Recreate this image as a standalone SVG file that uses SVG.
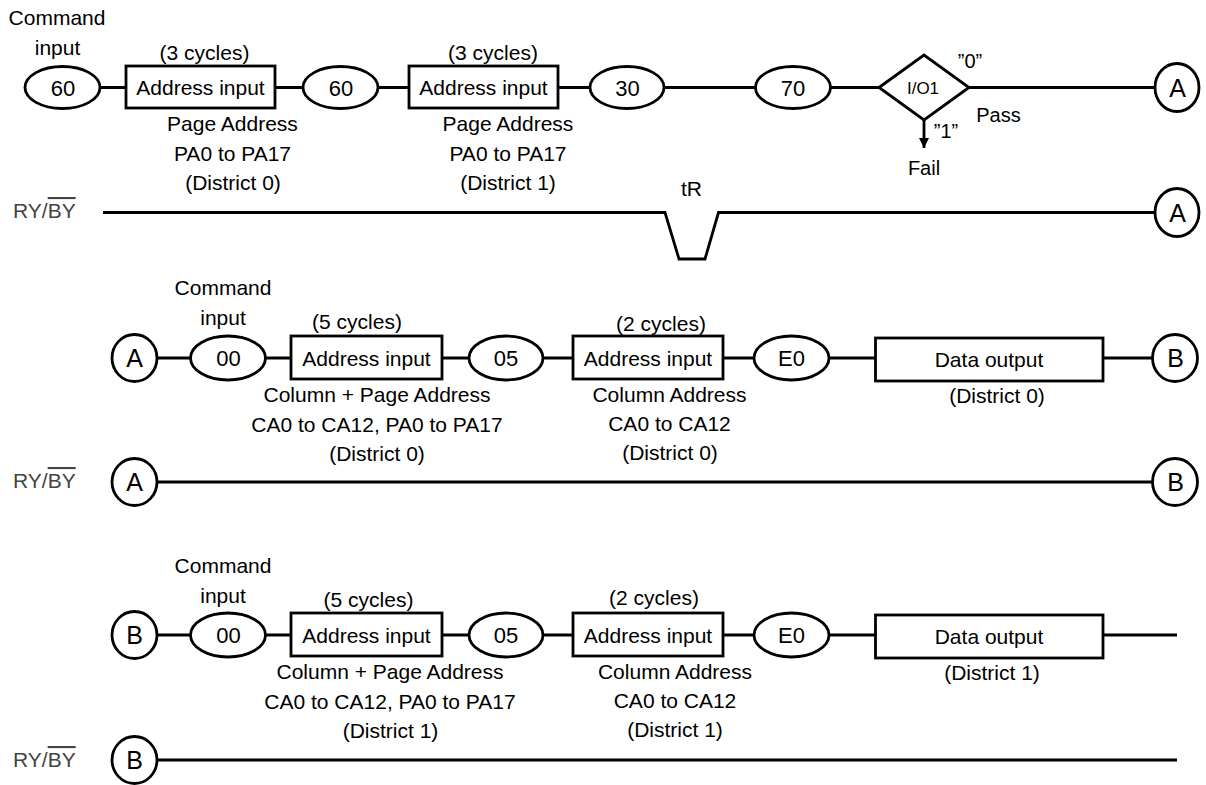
<svg xmlns="http://www.w3.org/2000/svg" width="1206" height="785" viewBox="0 0 1206 785">
<defs>
<style>
text{font-family:"Liberation Sans",Arial,sans-serif;font-size:21px;fill:#000;text-anchor:middle}
.sh{fill:#fff;stroke:#000;stroke-width:2.8}
.ln{fill:none;stroke:#000;stroke-width:2.8}
.lt{font-size:25px}
.nm{font-size:22px}
.io{font-size:17px}
.q{font-size:20px}
.ry{fill:#444;text-anchor:start}
</style>
<marker id="ah" viewBox="0 0 10 10" refX="10" refY="5" markerWidth="11" markerHeight="10" markerUnits="userSpaceOnUse" orient="auto">
<path d="M0,0 L10,5 L0,10 Z" fill="#000"/>
</marker>
</defs>
<rect width="1206" height="785" fill="#fff"/>

<g id="connectors">
<path class="ln" d="M100,87.5 H126 M275,87.5 H303 M378,87.5 H409 M558,87.5 H590 M664,87.5 H755.5 M830.5,87.5 H879 M969,87.5 H1155"/>
<path class="ln" d="M924,120 V148" marker-end="url(#ah)"/>
<path class="ln" d="M103,212.5 H665 L679,259 H705 L718.5,212.5 H1155"/>
<path class="ln" d="M157,358 H190.5 M265.5,358 H291 M442,358 H469 M543,358 H573 M723,358 H754 M829,358 H875.5 M1103,358 H1153"/>
<path class="ln" d="M157,482 H1153"/>
<path class="ln" d="M157,635 H190.5 M265.5,635 H291 M442,635 H469 M543,635 H573 M723,635 H754 M829,635 H875.5 M1103,635 H1177"/>
<path class="ln" d="M157,760 H1177"/>
</g>

<!-- Row 1 -->
<g id="r1-labels">
<text x="57" y="25">Command</text>
<text x="57.5" y="55">input</text>
<text x="204.5" y="60">(3 cycles)</text>
<text x="493" y="60">(3 cycles)</text>
<text x="232.5" y="131">Page Address</text>
<text x="232.5" y="160.5">PA0 to PA17</text>
<text x="233" y="190">(District 0)</text>
<text x="508" y="131">Page Address</text>
<text x="508" y="160.5">PA0 to PA17</text>
<text x="508" y="190">(District 1)</text>
<text class="q" x="970" y="68">”0”</text>
<text class="q" x="998.5" y="122">Pass</text>
<text class="q" x="946" y="138">”1”</text>
<text class="q" x="924" y="175">Fail</text>
<text x="691.5" y="196">tR</text>
<text class="ry" x="13" y="218">RY/<tspan style="text-decoration:overline">BY</tspan></text>
</g>
<g id="r1-cmd60a"><ellipse class="sh" cx="62.5" cy="87.5" rx="37.5" ry="21"/><text class="nm" x="63" y="95.5">60</text></g>
<g id="r1-addr1"><rect class="sh" x="126" y="66" width="149" height="42"/><text x="200.5" y="94.5">Address input</text></g>
<g id="r1-cmd60b"><ellipse class="sh" cx="340.5" cy="87.5" rx="37.5" ry="21"/><text class="nm" x="341" y="95.5">60</text></g>
<g id="r1-addr2"><rect class="sh" x="409" y="66" width="149" height="42"/><text x="483.5" y="94.5">Address input</text></g>
<g id="r1-cmd30"><ellipse class="sh" cx="627" cy="87.5" rx="37" ry="21"/><text class="nm" x="627.5" y="95.5">30</text></g>
<g id="r1-cmd70"><ellipse class="sh" cx="793" cy="87.5" rx="37.5" ry="21"/><text class="nm" x="793" y="95.5">70</text></g>
<g id="r1-io1"><polygon class="sh" points="879,87.5 924,55 969,87.5 924,120"/><text class="io" x="923" y="94">I/O1</text></g>
<g id="r1-A-out"><ellipse class="sh" cx="1177" cy="87.5" rx="22" ry="24"/><text class="lt" x="1177.5" y="96.5">A</text></g>
<g id="r1-A-ry"><ellipse class="sh" cx="1177" cy="212.5" rx="22" ry="24"/><text class="lt" x="1177.5" y="221.5">A</text></g>

<!-- Row 2 -->
<g id="r2-labels">
<text x="223" y="295">Command</text>
<text x="223" y="325">input</text>
<text x="357" y="329">(5 cycles)</text>
<text x="377" y="402">Column + Page Address</text>
<text x="377" y="431.5">CA0 to CA12, PA0 to PA17</text>
<text x="377" y="461">(District 0)</text>
<text x="661" y="331">(2 cycles)</text>
<text x="669.5" y="402">Column Address</text>
<text x="669.5" y="431">CA0 to CA12</text>
<text x="670" y="460">(District 0)</text>
<text x="997" y="403">(District 0)</text>
<text class="ry" x="13" y="488">RY/<tspan style="text-decoration:overline">BY</tspan></text>
</g>
<g id="r2-A-in"><ellipse class="sh" cx="134.5" cy="358" rx="22.5" ry="23.5"/><text class="lt" x="134.5" y="367">A</text></g>
<g id="r2-cmd00"><ellipse class="sh" cx="228" cy="358" rx="37.5" ry="22"/><text class="nm" x="228.5" y="366">00</text></g>
<g id="r2-addr1"><rect class="sh" x="291" y="336" width="151" height="43"/><text x="366.5" y="365.5">Address input</text></g>
<g id="r2-cmd05"><ellipse class="sh" cx="506" cy="358" rx="37" ry="22"/><text class="nm" x="506" y="366">05</text></g>
<g id="r2-addr2"><rect class="sh" x="573" y="336" width="150" height="43"/><text x="648" y="365.5">Address input</text></g>
<g id="r2-cmdE0"><ellipse class="sh" cx="791.5" cy="358" rx="37.5" ry="22"/><text class="nm" x="791.5" y="366">E0</text></g>
<g id="r2-data"><rect class="sh" x="875.5" y="338" width="227.5" height="43"/><text x="989" y="367">Data output</text></g>
<g id="r2-B-out"><ellipse class="sh" cx="1175" cy="358" rx="22.5" ry="23.5"/><text class="lt" x="1175.5" y="367">B</text></g>
<g id="r2-A-ry"><ellipse class="sh" cx="134.5" cy="482" rx="22.5" ry="23.5"/><text class="lt" x="134.5" y="491">A</text></g>
<g id="r2-B-ry"><ellipse class="sh" cx="1175" cy="482" rx="22.5" ry="23.5"/><text class="lt" x="1175.5" y="491">B</text></g>

<!-- Row 3 -->
<g id="r3-labels">
<text x="223" y="573">Command</text>
<text x="223" y="603">input</text>
<text x="368.5" y="607">(5 cycles)</text>
<text x="390" y="679">Column + Page Address</text>
<text x="390" y="708.5">CA0 to CA12, PA0 to PA17</text>
<text x="390.5" y="738">(District 1)</text>
<text x="654" y="605">(2 cycles)</text>
<text x="675" y="679">Column Address</text>
<text x="675" y="708">CA0 to CA12</text>
<text x="675" y="737">(District 1)</text>
<text x="992" y="680">(District 1)</text>
<text class="ry" x="13" y="767">RY/<tspan style="text-decoration:overline">BY</tspan></text>
</g>
<g id="r3-B-in"><ellipse class="sh" cx="134.5" cy="635" rx="22.5" ry="23.5"/><text class="lt" x="134.5" y="644">B</text></g>
<g id="r3-cmd00"><ellipse class="sh" cx="228" cy="635" rx="37.5" ry="22"/><text class="nm" x="228.5" y="643">00</text></g>
<g id="r3-addr1"><rect class="sh" x="291" y="613" width="151" height="43"/><text x="366.5" y="642.5">Address input</text></g>
<g id="r3-cmd05"><ellipse class="sh" cx="506" cy="635" rx="37" ry="22"/><text class="nm" x="506" y="643">05</text></g>
<g id="r3-addr2"><rect class="sh" x="573" y="613" width="150" height="43"/><text x="648" y="642.5">Address input</text></g>
<g id="r3-cmdE0"><ellipse class="sh" cx="791.5" cy="635" rx="37.5" ry="22"/><text class="nm" x="791.5" y="643">E0</text></g>
<g id="r3-data"><rect class="sh" x="875.5" y="615" width="227.5" height="43"/><text x="989" y="644">Data output</text></g>
<g id="r3-B-ry"><ellipse class="sh" cx="134.5" cy="760" rx="22.5" ry="23.5"/><text class="lt" x="134.5" y="769">B</text></g>
</svg>
